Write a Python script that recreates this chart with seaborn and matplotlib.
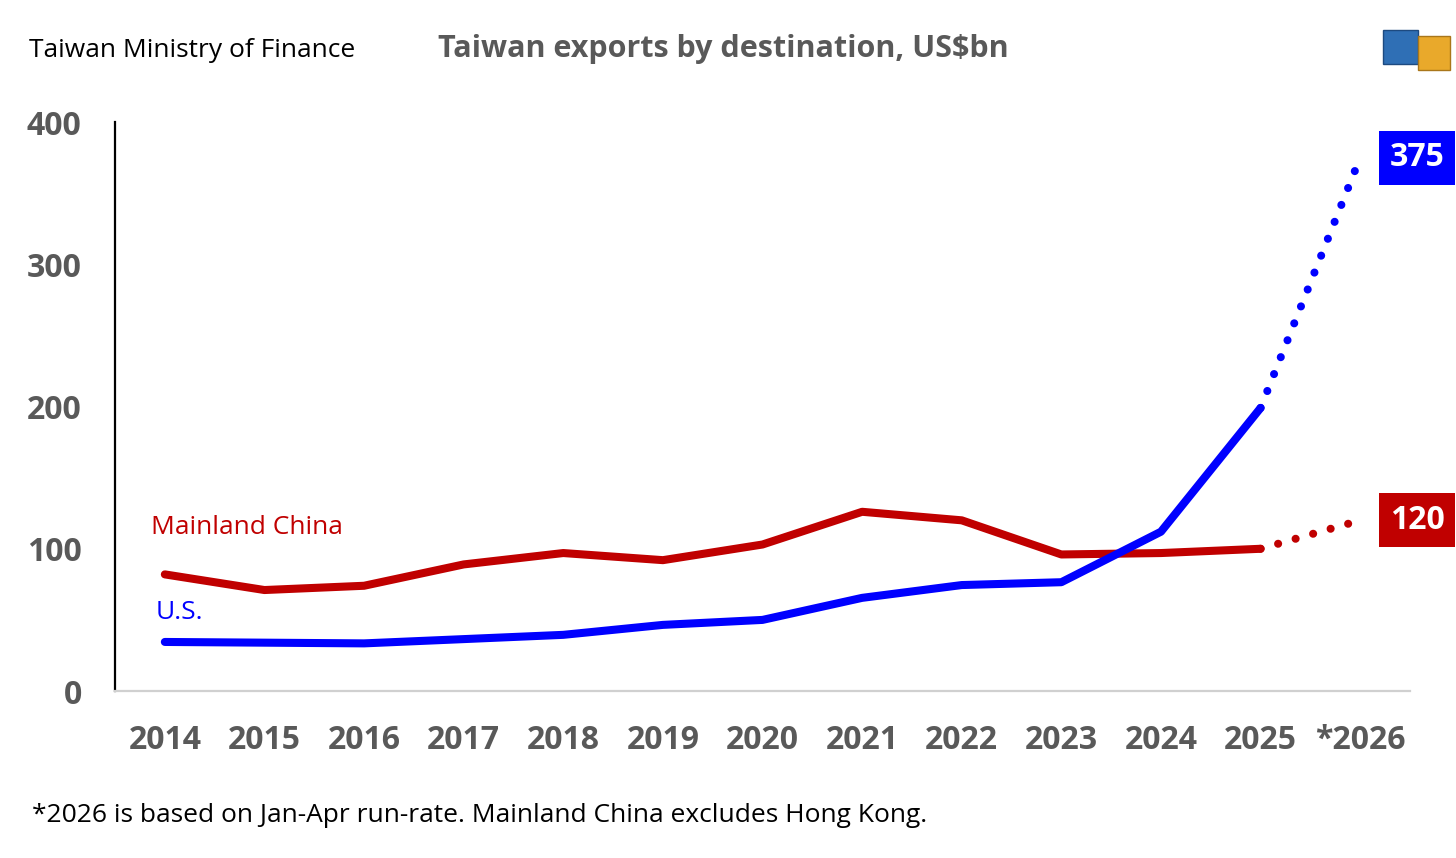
import matplotlib
matplotlib.use("Agg")
import matplotlib.pyplot as plt
import matplotlib.patches as mpatches
import numpy as np
import pandas as pd
import seaborn as sns

# Data (US$bn)
years = ["2014", "2015", "2016", "2017", "2018", "2019", "2020",
         "2021", "2022", "2023", "2024", "2025", "*2026"]
china = [82, 71, 74, 89, 97, 92, 103, 126, 120, 96, 97, 100, 120]
us = [34.5, 34, 33.5, 36.5, 39.5, 46.5, 50, 65.5, 74.5, 76.5, 112, 199, 375]

RED = "#c00000"
BLUE = "#0000ff"
GREY = "#595959"

sns.set_theme(style="white")
plt.rcParams["font.family"] = ["Open Sans", "DejaVu Sans"]

n_actual = 12  # 2014-2025 are actuals, 2026 is run-rate
df = pd.DataFrame({
    "pos": list(range(len(years))) * 2,
    "value": china + us,
    "series": ["Mainland China"] * len(years) + ["U.S."] * len(years),
})
actual = df[df["pos"] < n_actual]
proj = df[df["pos"] >= n_actual - 1]

fig = plt.figure(figsize=(14.56, 8.58), dpi=100)
ax = fig.add_axes([0.079, 0.1946, 0.8894, 0.6632])

palette = {"Mainland China": RED, "U.S.": BLUE}
sns.lineplot(data=actual, x="pos", y="value", hue="series", palette=palette,
             linewidth=5.8, ax=ax, legend=False, solid_capstyle="round")
sns.lineplot(data=proj, x="pos", y="value", hue="series", palette=palette,
             linewidth=5.8, ax=ax, legend=False)
for line in ax.lines[-2:]:
    line.set_linestyle((0, (0.01, 2.25)))
    line.set_dash_capstyle("round")

ax.set_xlim(-0.5, len(years) - 0.5)
ax.set_ylim(0, 400)
ax.set_xticks(range(len(years)))
ax.set_xticklabels(years)
ax.set_yticks([0, 100, 200, 300, 400])
ax.tick_params(axis="both", length=0, labelsize=23, labelcolor=GREY)
ax.tick_params(axis="x", pad=24)
ax.tick_params(axis="y", pad=24)
for lab in ax.get_xticklabels() + ax.get_yticklabels():
    lab.set_fontweight("bold")
ax.set_xlabel("")
ax.set_ylabel("")

for side in ["top", "right"]:
    ax.spines[side].set_visible(False)
ax.spines["left"].set_color("black")
ax.spines["left"].set_linewidth(1.6)
ax.spines["bottom"].set_color("#d0d0d0")
ax.spines["bottom"].set_linewidth(1.6)

# series labels
ax.text(-0.14, 115, "Mainland China", color=RED, fontsize=19, va="center", ha="left")
ax.text(-0.09, 55, "U.S.", color=BLUE, fontsize=19, va="center", ha="left")

# end-value boxes
for val, col in [(us[-1], BLUE), (china[-1], RED)]:
    ax.text(12.57, val, f"{val:.0f}", color="white", fontsize=23, fontweight="bold",
            ha="center", va="center", clip_on=False,
            bbox=dict(boxstyle="square,pad=0.33", fc=col, ec="none"))

fig.text(0.02, 0.941, "Taiwan Ministry of Finance", fontsize=19, color="black",
         ha="left", va="center")
fig.text(0.497, 0.943, "Taiwan exports by destination, US$bn", fontsize=22,
         fontweight="bold", color=GREY, ha="center", va="center")
fig.text(0.022, 0.05, "*2026 is based on Jan-Apr run-rate. Mainland China excludes Hong Kong.",
         fontsize=19, color="black", ha="left", va="center")

# small container logo, top right
fig.patches.append(mpatches.Rectangle((0.95, 0.925), 0.024, 0.04, fc="#2f6fb5",
                                      ec="#1d4a80", transform=fig.transFigure))
fig.patches.append(mpatches.Rectangle((0.974, 0.918), 0.022, 0.04, fc="#e9a92b",
                                      ec="#a9761a", transform=fig.transFigure))

fig.savefig("out.png", dpi=100, facecolor="white")
